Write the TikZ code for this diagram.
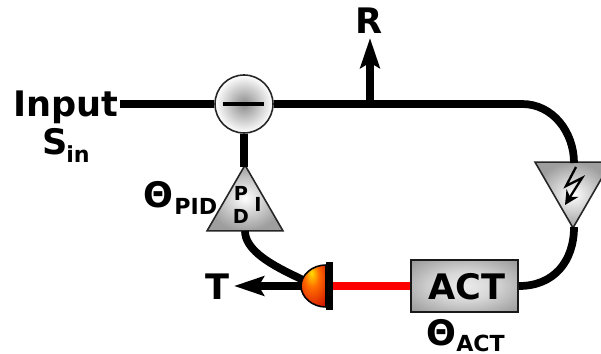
\documentclass[tikz,border=0pt]{standalone}
\usepackage{fontspec}
\setmainfont{DejaVu Sans}
\usetikzlibrary{arrows.meta,shapes.geometric}
\pgfdeclareradialshading{diodeshade}{\pgfpoint{-4bp}{16bp}}{color(0bp)=(yellow!75!orange); color(14bp)=(orange!85!red); color(42bp)=(red!78!black); color(60bp)=(red!70!black)}
\pgfdeclareradialshading{actshade}{\pgfpointorigin}{color(0bp)=(black!8); color(14bp)=(black!16); color(52bp)=(black!60); color(70bp)=(black!70)}
\tikzset{
	wire/.style={line width=4.4pt},
	bigtext/.style={font=\bfseries\fontsize{20pt}{20pt}\selectfont,inner sep=0pt},
	subtext/.style={font=\bfseries\fontsize{12.6pt}{12.6pt}\selectfont,inner sep=0pt},
	pidtext/.style={font=\bfseries\fontsize{11pt}{11pt}\selectfont,inner sep=0pt},
	amp/.style={regular polygon,regular polygon sides=3,minimum size=1.756cm,inner sep=0pt,draw=black!85,line width=0.9pt,inner color=white,outer color=black!38},
	tip/.style={-{Stealth[length=17pt,width=11pt,inset=3pt]}},
}
\begin{document}
\begin{tikzpicture}[x=0.02cm,y=-0.02cm]
	\useasboundingbox (0,0) rectangle (601,354);

	\node[circle,draw=black!85,line width=0.9pt,inner color=black!45,outer color=white,minimum size=1.16cm,inner sep=0pt] (coupler) at (244,104) {};
	\node[amp] (pid) at (245,209) {};
	\node[amp,shape border rotate=180] (det) at (573,184) {};
	\node[rectangle,draw=black!90,line width=1.2pt,shading=actshade,minimum width=2.14cm,minimum height=1.04cm,inner sep=0pt] (act) at (464.5,286) {};
	\coordinate (diode) at (301,286);
	\coordinate (in) at (120,104);
	\coordinate (tap) at (370,104);
	\coordinate (rout) at (370,38);
	\coordinate (tout) at (234,286);

	% fibre loop
	\draw[wire] (in) -- (coupler.west);
	\draw[wire] (coupler.east) -- (522,104) to[out=0,in=90] (574,163);
	\draw[wire] (574,227) to[out=-90,in=0,looseness=1.1] (act.east);
	\draw[wire] (coupler.south) -- (244,167);
	\draw[wire] (245,231) to[out=-90,in=0,looseness=1.15] (diode);
	\draw[line width=4.4pt,red] (333,286) -- (act.west);

	% outputs
	\draw[wire,tip] (tap) -- (rout);
	\draw[wire,tip] (diode) -- (tout);

	% photodiode
	\draw[draw=black,line width=0.9pt,shading=diodeshade] (326,265) .. controls (312,265) and (301,275) .. (301,286) .. controls (301,297) and (312,307) .. (326,307) -- cycle;
	\draw[line width=4pt] (329.5,262) -- (329.5,310);

	% coupler bar and lightning
	\draw[line width=1.8pt] (223,104) -- (264,104);
	\draw[line width=1.3pt,-{Stealth[length=8pt,width=8pt]}] (576,167) -- (566,186) -- (582,178) -- (565,205);

	% labels
	\node[bigtext,anchor=base west] (input) at (13,117) {Input};
	\node[bigtext,anchor=base west] (sin) at (42,155) {S};
	\node[subtext,anchor=base west] (insub) at (66,163) {in};
	\node[bigtext,anchor=base] (r) at (369,34) {R};
	\node[bigtext,anchor=base] (t) at (217,299) {T};
	\node[bigtext,anchor=base] (acttext) at (467,299) {ACT};
	\node[bigtext,anchor=base west] (thetapid) at (143,208) {Θ};
	\node[subtext,anchor=base west] (pidsub) at (174,215) {PID};
	\node[bigtext,anchor=base west] (thetaact) at (426,345) {Θ};
	\node[subtext,anchor=base west] (actsub) at (456,351) {ACT};
	\node[pidtext,anchor=base] (p) at (241,201) {P};
	\node[pidtext,anchor=base] (d) at (241,224) {D};
	\node[pidtext,anchor=base] (i) at (258,212) {I};
\end{tikzpicture}
\end{document}
